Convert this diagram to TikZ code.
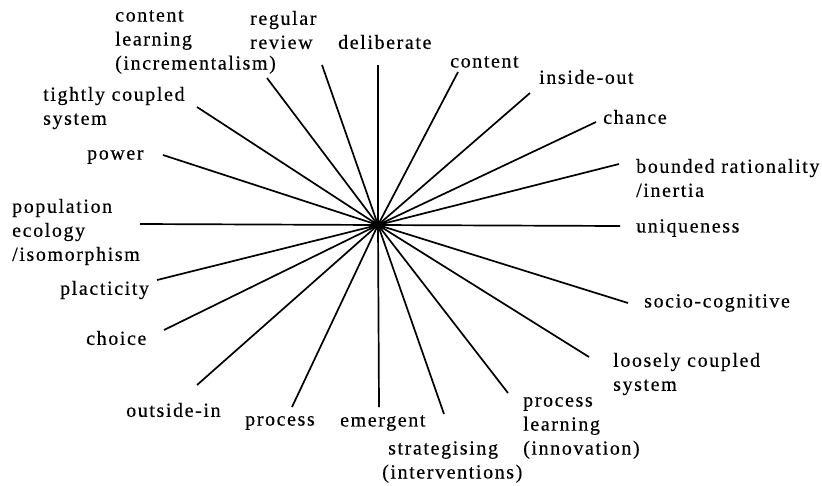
\documentclass[tikz,border=0pt]{standalone}
\usepackage{fontspec}
\setmainfont[LetterSpace=8]{Liberation Serif}
\newfontfamily\lblfont[LetterSpace=8,FakeBold=0.4]{Liberation Serif}
\begin{document}
\begin{tikzpicture}[x=1pt,y=-1pt,
  lbl/.style={anchor=west,inner sep=0pt,align=left,font=\lblfont\fontsize{20}{24}\selectfont},
  spoke/.style={line width=1.7pt,black}]
\useasboundingbox (0,0) rectangle (822,485);
\fill[white] (0,0) rectangle (822,485);
% centre
\coordinate (c) at (378,225);
% labels
\node[lbl] (l1) at (115,42) {content\\learning\\(incrementalism)};
\node[lbl] (l2) at (250,30) {regular\\review};
\node[lbl] (l3) at (338,42) {deliberate};
\node[lbl] (l4) at (450,62) {content};
\node[lbl] (l5) at (539,77) {inside-out};
\node[lbl] (l6) at (603,117) {chance};
\node[lbl] (l7) at (636,178) {bounded rationality\\/inertia};
\node[lbl] (l8) at (636,228) {uniqueness};
\node[lbl] (l9) at (644,303) {socio-cognitive};
\node[lbl] (l10) at (613,374) {loosely coupled\\system};
\node[lbl] (l11) at (523,428) {process\\learning\\(innovation)};
\node[lbl] (l12) at (382,462) {\hspace{6pt}strategising\\(interventions)};
\node[lbl] (l13) at (340,423) {emergent};
\node[lbl] (l14) at (245,423) {process};
\node[lbl] (l15) at (126,410) {outside-in};
\node[lbl] (l16) at (86,338) {choice};
\node[lbl] (l17) at (60,290) {placticity};
\node[lbl] (l18) at (12,232) {population\\ecology\\/isomorphism};
\node[lbl] (l19) at (87,157) {power};
\node[lbl] (l20) at (43,108) {tightly coupled\\system};
% spoke ends
\coordinate (e1) at (267,78);
\coordinate (e2) at (322,65);
\coordinate (e3) at (378,65);
\coordinate (e4) at (458,72);
\coordinate (e5) at (530,93);
\coordinate (e6) at (596,122);
\coordinate (e7) at (619,164);
\coordinate (e8) at (620,226);
\coordinate (e9) at (628,303);
\coordinate (e10) at (589,357);
\coordinate (e11) at (508,393);
\coordinate (e12) at (444,414);
\coordinate (e13) at (379,407);
\coordinate (e14) at (292,407);
\coordinate (e15) at (197,385);
\coordinate (e16) at (164,330);
\coordinate (e17) at (157,280);
\coordinate (e18) at (140,224);
\coordinate (e19) at (163,155);
\coordinate (e20) at (197,107);
\foreach \i in {1,...,20} {\draw[spoke] (c) -- (e\i);}
\end{tikzpicture}
\end{document}
